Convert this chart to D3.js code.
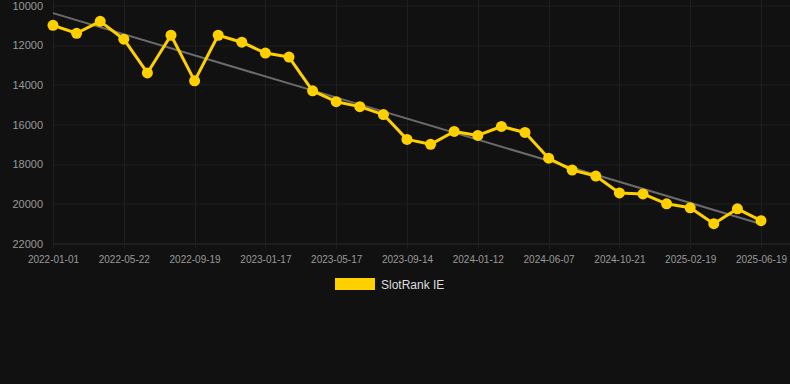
<!DOCTYPE html>
<html>
<head>
<meta charset="utf-8">
<script src="https://cdn.jsdelivr.net/npm/d3@7"></script>
<style>
  html, body { margin: 0; padding: 0; background: #111111; }
  #wrapper { width: 790px; height: 384px; }
  text { font-family: "Liberation Sans", Arial, sans-serif; }
</style>
</head>
<body>
<div id="wrapper"></div>
<script>
// dates (categories) and rank values
const dates = [
  "2022-01-01", "2022-02-17", "2022-04-05", "2022-05-22", "2022-07-01", "2022-08-10",
  "2022-09-19", "2022-10-29", "2022-12-08", "2023-01-17", "2023-02-26", "2023-04-07",
  "2023-05-17", "2023-06-26", "2023-08-05", "2023-09-14", "2023-10-24", "2023-12-03",
  "2024-01-12", "2024-03-01", "2024-04-19", "2024-06-07", "2024-07-22", "2024-09-05",
  "2024-10-21", "2024-12-01", "2025-01-10", "2025-02-19", "2025-03-31", "2025-05-10",
  "2025-06-19",
];
const rankValues = [
  11000, 11400, 10800, 11700, 13400, 11500, 13800, 11500, 11850, 12400, 12600, 14300,
  14850, 15100, 15500, 16750, 17000, 16350, 16550, 16100, 16400, 17700, 18300, 18600,
  19450, 19500, 20000, 20200, 21000, 20250, 20850,
];
const yTicks = [10000, 12000, 14000, 16000, 18000, 20000, 22000];
const seriesName = "SlotRank IE";

async function drawLineChart() {
  const dataset = dates.map((d, i) => ({ date: d, value: rankValues[i], i }));
  const xAccessor = (d) => d.date;
  const yAccessor = (d) => d.value;

  //* dimensions
  const dimensions = {
    width: 790,
    height: 384,
    margin: { top: 5.5, right: 0, bottom: 140.5, left: 53 },
  };
  dimensions.boundedHeight =
    dimensions.height - dimensions.margin.top - dimensions.margin.bottom;

  const wrapper = d3
    .select("#wrapper")
    .append("svg")
    .attr("width", dimensions.width)
    .attr("height", dimensions.height);

  wrapper
    .append("rect")
    .attr("width", dimensions.width)
    .attr("height", dimensions.height)
    .attr("fill", "#111111");

  const bounds = wrapper
    .append("g")
    .attr("transform", `translate(${dimensions.margin.left}, ${dimensions.margin.top})`);

  //* scales
  const xScale = d3.scalePoint().domain(dates).range([0, 708]);
  const yScale = d3
    .scaleLinear()
    .domain([10000, 22000])
    .range([0, dimensions.boundedHeight]);

  //* grid
  const gridWidth = dimensions.width - dimensions.margin.left;
  const labelDates = dates.filter((d, i) => i % 3 === 0);

  bounds
    .append("g")
    .selectAll("line")
    .data(yTicks)
    .join("line")
    .attr("x1", 0)
    .attr("x2", gridWidth)
    .attr("y1", (d) => Math.round(yScale(d)) + 0.5)
    .attr("y2", (d) => Math.round(yScale(d)) + 0.5)
    .attr("stroke", (d) => (d === 22000 ? "#2a2a2a" : "#1f1f1f"))
    .attr("stroke-width", 1);

  bounds
    .append("g")
    .selectAll("line")
    .data(labelDates)
    .join("line")
    .attr("x1", (d) => Math.round(xScale(d)) + 0.5)
    .attr("x2", (d) => Math.round(xScale(d)) + 0.5)
    .attr("y1", -dimensions.margin.top)
    .attr("y2", dimensions.boundedHeight + 5)
    .attr("stroke", "#1f1f1f")
    .attr("stroke-width", 1);

  //* axes
  const yAxis = bounds
    .append("g")
    .call(d3.axisLeft(yScale).tickValues(yTicks).tickSize(0).tickPadding(10).tickFormat(d3.format("d")));
  yAxis.select(".domain").remove();
  yAxis
    .selectAll("text")
    .attr("fill", "#999999")
    .attr("font-size", 11)
    .attr("font-family", "'Liberation Sans', Arial, sans-serif");

  const xAxis = bounds
    .append("g")
    .attr("transform", `translate(0, ${dimensions.boundedHeight})`)
    .call(d3.axisBottom(xScale).tickValues(labelDates).tickSize(0).tickPadding(12));
  xAxis.select(".domain").remove();
  xAxis
    .selectAll("text")
    .attr("fill", "#999999")
    .attr("font-size", 10)
    .attr("font-family", "'Liberation Sans', Arial, sans-serif");

  //* trend line (least squares over the points)
  const n = dataset.length;
  const meanX = d3.mean(dataset, (d) => d.i);
  const meanY = d3.mean(dataset, yAccessor);
  const slope =
    d3.sum(dataset, (d) => (d.i - meanX) * (d.value - meanY)) /
    d3.sum(dataset, (d) => (d.i - meanX) ** 2);
  const intercept = meanY - slope * meanX;
  const trend = [dataset[0], dataset[n - 1]].map((d) => ({
    date: d.date,
    value: intercept + slope * d.i,
  }));

  const lineGenerator = d3
    .line()
    .x((d) => xScale(xAccessor(d)))
    .y((d) => yScale(yAccessor(d)));

  bounds
    .append("path")
    .attr("d", lineGenerator(trend))
    .attr("fill", "none")
    .attr("stroke", "#6b6b6b")
    .attr("stroke-width", 2);

  //* data
  bounds
    .append("path")
    .attr("d", lineGenerator(dataset))
    .attr("fill", "none")
    .attr("stroke", "#ffd000")
    .attr("stroke-width", 3)
    .attr("stroke-linejoin", "round");

  bounds
    .append("g")
    .selectAll("circle")
    .data(dataset)
    .join("circle")
    .attr("cx", (d) => xScale(xAccessor(d)))
    .attr("cy", (d) => yScale(yAccessor(d)))
    .attr("r", 5.5)
    .attr("fill", "#ffd000");

  //* legend
  const legend = wrapper.append("g").attr("transform", "translate(335, 278)");
  legend
    .append("rect")
    .attr("width", 40)
    .attr("height", 12)
    .attr("fill", "#ffd000");
  legend
    .append("text")
    .attr("x", 46)
    .attr("y", 10.5)
    .attr("fill", "#dddddd")
    .attr("font-size", 12)
    .text(seriesName);
}
drawLineChart();
</script>
</body>
</html>
